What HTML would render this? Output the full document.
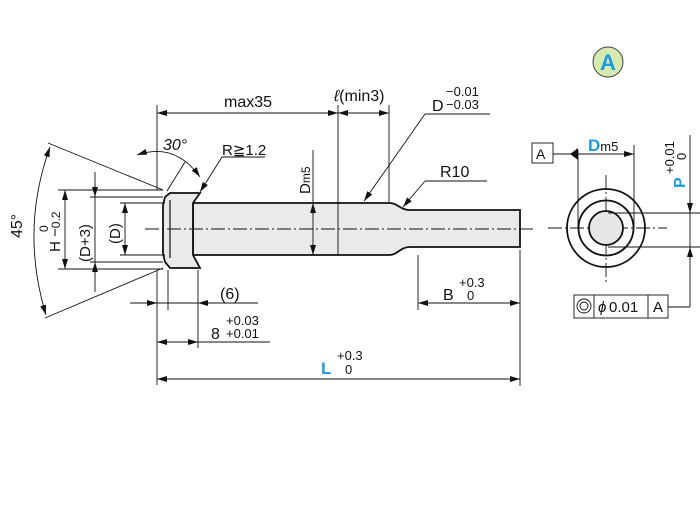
<!DOCTYPE html>
<html><head><meta charset="utf-8"><style>
html,body{margin:0;padding:0;background:#fff;width:700px;height:509px;overflow:hidden}
svg{display:block}
text{font-family:"Liberation Sans",sans-serif;fill:#111}
</style></head><body>
<svg width="700" height="509" viewBox="0 0 700 509" xmlns="http://www.w3.org/2000/svg">
<defs>
<marker id="a" viewBox="0 0 10 6" refX="10" refY="3" markerWidth="10" markerHeight="6" orient="auto-start-reverse" markerUnits="userSpaceOnUse"><path d="M0,0 L10,3 L0,6 z" fill="#111"/></marker>
</defs>
<g stroke="#111" stroke-width="0.9" fill="none">
<path d="M193,203 L389,203 C398,203 400,210 410,210 L520,210 L520,247 L410,247 C400,247 398,255 389,255 L193,255 Z" fill="#eaeaea" stroke-width="1.8"/>
<path d="M170,193 L200,193 L193,203 L193,255 L200,268 L170,268 L165,262 L163,253 L163,205 L165,197 Z" fill="#eaeaea" stroke-width="1.8"/>
<line x1="170" y1="200" x2="170" y2="258" stroke-width="1.2"/>
<line x1="193" y1="203" x2="193" y2="255" stroke-width="1.2"/>
<line x1="338" y1="203" x2="338" y2="255"/>
<line x1="145" y1="229" x2="535" y2="229" stroke-dasharray="14,3,2,3"/>
<line x1="548" y1="228" x2="667" y2="228" stroke-dasharray="14,3,2,3"/>
<line x1="606" y1="175" x2="606" y2="282" stroke-dasharray="14,3,2,3"/>
<line x1="157" y1="105" x2="157" y2="190"/>
<line x1="338" y1="105" x2="338" y2="203"/>
<line x1="389" y1="105" x2="389" y2="203"/>
<line x1="157" y1="113" x2="338" y2="113" marker-start="url(#a)" marker-end="url(#a)"/>
<line x1="338" y1="113" x2="389" y2="113" marker-start="url(#a)" marker-end="url(#a)"/>
<line x1="425" y1="114" x2="490" y2="114"/>
<line x1="425" y1="114" x2="364" y2="201" marker-end="url(#a)"/>
<line x1="425" y1="181" x2="487" y2="181"/>
<line x1="425" y1="181" x2="403" y2="207" marker-end="url(#a)"/>
<line x1="222" y1="157" x2="265" y2="157"/>
<line x1="222" y1="157" x2="200" y2="192" marker-end="url(#a)"/>
<line x1="313" y1="150" x2="313" y2="255" />
<line x1="313" y1="215" x2="313" y2="203" marker-end="url(#a)"/>
<line x1="313" y1="243" x2="313" y2="255" marker-end="url(#a)"/>
<line x1="167" y1="191" x2="185" y2="162"/>
<path d="M137,155 Q175,142 200,177" marker-start="url(#a)" marker-end="url(#a)"/>
<line x1="163" y1="190" x2="48" y2="143"/>
<line x1="163" y1="268" x2="45" y2="318"/>
<path d="M50,147 Q20,230 46,315" marker-start="url(#a)" marker-end="url(#a)"/>
<line x1="58" y1="190" x2="163" y2="190"/>
<line x1="58" y1="269" x2="163" y2="269"/>
<line x1="90" y1="197" x2="163" y2="197"/>
<line x1="90" y1="262" x2="163" y2="262"/>
<line x1="120" y1="203" x2="165" y2="203"/>
<line x1="120" y1="255" x2="165" y2="255"/>
<line x1="65" y1="190" x2="65" y2="269" marker-start="url(#a)" marker-end="url(#a)"/>
<line x1="95" y1="172" x2="95" y2="292"/>
<line x1="95" y1="185" x2="95" y2="197" marker-end="url(#a)"/>
<line x1="95" y1="274" x2="95" y2="262" marker-end="url(#a)"/>
<line x1="125" y1="203" x2="125" y2="255" marker-start="url(#a)" marker-end="url(#a)"/>
<line x1="157" y1="270" x2="157" y2="385"/>
<line x1="168" y1="270" x2="168" y2="310"/>
<line x1="198" y1="270" x2="198" y2="348"/>
<line x1="130" y1="303" x2="258" y2="303"/>
<line x1="145" y1="303" x2="157" y2="303" marker-end="url(#a)"/>
<line x1="210" y1="303" x2="198" y2="303" marker-end="url(#a)"/>
<line x1="157" y1="342" x2="270" y2="342"/>
<line x1="157" y1="342" x2="198" y2="342" marker-start="url(#a)" marker-end="url(#a)"/>
<line x1="418" y1="255" x2="418" y2="310"/>
<line x1="520" y1="250" x2="520" y2="386"/>
<line x1="418" y1="303" x2="520" y2="303" marker-start="url(#a)" marker-end="url(#a)"/>
<line x1="157" y1="379" x2="520" y2="379" marker-start="url(#a)" marker-end="url(#a)"/>
<circle cx="606" cy="228" r="39" stroke-width="1.8"/>
<circle cx="606" cy="228" r="27.5" stroke-width="1.8"/>
<circle cx="606" cy="228" r="17" fill="#e6e6e6" stroke-width="1.8"/>
<rect x="532" y="143" width="21" height="20"/>
<line x1="553" y1="154" x2="572" y2="154"/>
<line x1="578" y1="150" x2="578" y2="228"/>
<line x1="634" y1="145" x2="634" y2="228"/>
<line x1="578" y1="154" x2="634" y2="154" marker-end="url(#a)"/>
<line x1="608" y1="213" x2="700" y2="213"/>
<line x1="608" y1="247" x2="700" y2="247"/>
<line x1="690" y1="135" x2="690" y2="307"/>
<line x1="690" y1="200" x2="690" y2="213" marker-end="url(#a)"/>
<line x1="690" y1="260" x2="690" y2="247" marker-end="url(#a)"/>
<line x1="668" y1="307" x2="690" y2="307"/>
<rect x="574" y="295" width="94" height="23"/>
<line x1="594" y1="295" x2="594" y2="318"/>
<line x1="648" y1="295" x2="648" y2="318"/>
<circle cx="584" cy="306" r="7"/>
<circle cx="584" cy="306" r="4"/>
</g>
<path d="M570,154 L578,148 L578,160 Z" fill="#111"/>
<circle cx="608" cy="62" r="15" fill="#d6eab0" stroke="#444" stroke-width="1"/>
<text x="608" y="70" font-size="22" font-weight="bold" text-anchor="middle" style="fill:#1a9ae0">A</text>
<text x="224" y="107" font-size="16">max35</text>
<text x="334" y="101" font-size="16" font-style="italic">ℓ<tspan font-style="normal">(min3)</tspan></text>
<text x="432" y="111" font-size="16">D</text>
<text x="446" y="96" font-size="13">−0.01</text>
<text x="446" y="109" font-size="13">−0.03</text>
<text x="440" y="177" font-size="16">R10</text>
<text x="222" y="155" font-size="15">R≧1.2</text>
<text x="163" y="150" font-size="16" font-style="italic">30°</text>
<text transform="translate(22,238) rotate(-90)" font-size="16">45°</text>
<text transform="translate(60,252) rotate(-90)" font-size="15">H −<tspan font-size="12">0.2</tspan></text>
<text transform="translate(48,232) rotate(-90)" font-size="12">0</text>
<text transform="translate(90,262) rotate(-90)" font-size="15">(D+3)</text>
<text transform="translate(120,244) rotate(-90)" font-size="15">(D)</text>
<text transform="translate(310,194) rotate(-90)" font-size="15">D<tspan font-size="12">m5</tspan></text>
<text x="220" y="299" font-size="16">(6)</text>
<text x="211" y="339" font-size="16">8</text>
<text x="226" y="325" font-size="13">+0.03</text>
<text x="226" y="338" font-size="13">+0.01</text>
<text x="443" y="300" font-size="16">B</text>
<text x="459" y="287" font-size="13">+0.3</text>
<text x="467" y="300" font-size="13">0</text>
<text x="321" y="374" font-size="17" font-weight="bold" style="fill:#1a9ae0">L</text>
<text x="337" y="360" font-size="13">+0.3</text>
<text x="345" y="374" font-size="13">0</text>
<text x="536" y="159" font-size="14">A</text>
<text x="588" y="151" font-size="17" font-weight="bold" style="fill:#1a9ae0">D<tspan font-size="13" font-weight="normal" style="fill:#111">m5</tspan></text>
<text transform="translate(685,188) rotate(-90)" font-size="16" font-weight="bold" style="fill:#1a9ae0">P</text>
<text transform="translate(674,174) rotate(-90)" font-size="13">+0.01</text>
<text transform="translate(686,160) rotate(-90)" font-size="13">0</text>
<text x="598" y="312" font-size="15" font-style="italic">ϕ</text>
<text x="609" y="312" font-size="15">0.01</text>
<text x="653" y="312" font-size="15">A</text>
</svg>
</body></html>
